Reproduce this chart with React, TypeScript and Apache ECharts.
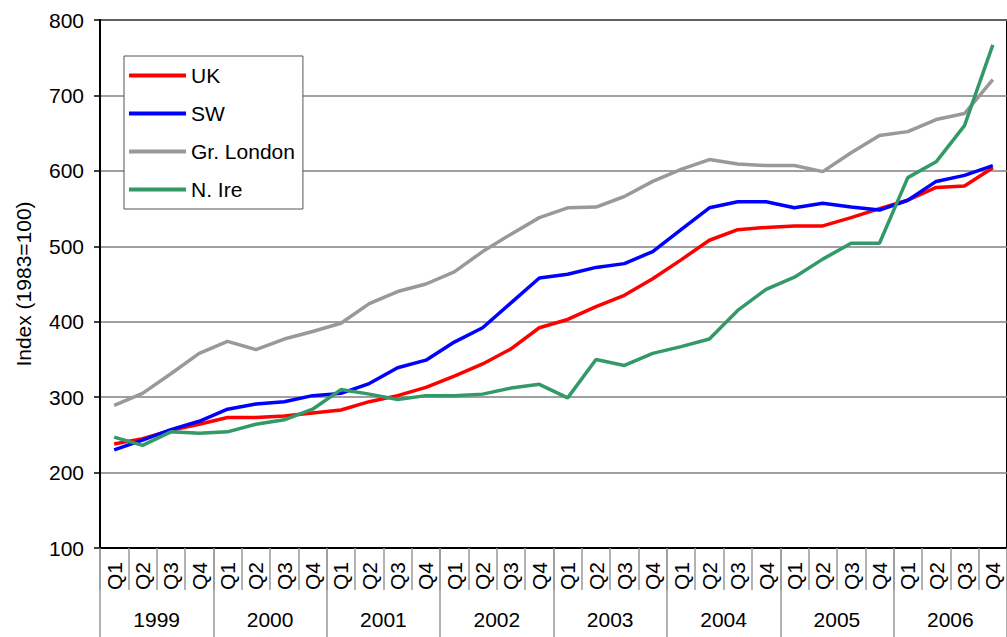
import React, { useEffect, useRef } from "react";
import * as echarts from "echarts";

const years = ["1999", "2000", "2001", "2002", "2003", "2004", "2005", "2006"];
const quarterLabels = ["Q1", "Q2", "Q3", "Q4"];

const ukValues = [238, 245, 256, 264, 273, 273, 275, 279, 283, 294, 302, 313, 328, 344, 364, 392, 403, 420, 435, 457, 482, 508, 522, 525, 527, 527, 538, 550, 561, 578, 580, 604];
const swValues = [230, 243, 257, 268, 284, 291, 294, 302, 305, 318, 339, 349, 373, 392, 425, 458, 463, 472, 477, 493, 522, 551, 559, 559, 551, 557, 552, 548, 561, 586, 594, 607];
const londonValues = [289, 305, 331, 358, 374, 363, 377, 387, 398, 424, 440, 450, 466, 493, 516, 538, 551, 552, 566, 586, 602, 615, 609, 607, 607, 599, 624, 647, 652, 668, 676, 721];
const nIreValues = [247, 236, 254, 252, 254, 264, 270, 284, 310, 304, 297, 302, 302, 304, 312, 317, 299, 350, 342, 358, 367, 377, 415, 443, 459, 483, 504, 504, 591, 612, 660, 767];

const yTicks = { min: 100, max: 800, interval: 100 };

const FONT = "'Liberation Sans', Arial, sans-serif";

export default function App() {
  const ref = useRef<HTMLDivElement>(null);

  useEffect(() => {
    document.body.style.margin = "0";
    if (!ref.current) return;
    const chart = echarts.init(ref.current, undefined, { renderer: "svg" });
    const categories = years.flatMap(() => quarterLabels);
    const mk = (name: string, data: number[], color: string) => ({
      name,
      type: "line",
      data,
      xAxisIndex: 0,
      symbol: "none",
      showSymbol: false,
      lineStyle: { color, width: 3.5 },
      itemStyle: { color },
      z: 3,
    });
    chart.setOption({
      animation: false,
      backgroundColor: "#ffffff",
      textStyle: { fontFamily: FONT, color: "#000" },
      grid: {
        left: 100,
        top: 20,
        right: -10,
        bottom: 89,
        show: true,
        borderColor: "#000",
        borderWidth: 2,
        backgroundColor: "transparent",
      },
      legend: {
        orient: "vertical",
        left: 124,
        top: 56,
        icon: "rect",
        itemWidth: 57,
        itemHeight: 4,
        itemGap: 17,
        padding: [9, 8, 9, 5],
        borderColor: "#555",
        borderWidth: 1,
        backgroundColor: "#fff",
        textStyle: { fontFamily: FONT, fontSize: 21, color: "#000" },
        data: ["UK", "SW", "Gr. London", "N. Ire"],
      },
      xAxis: [
        {
          type: "category",
          data: categories,
          boundaryGap: true,
          position: "bottom",
          axisLine: { show: true, lineStyle: { color: "#000", width: 2 } },
          axisTick: { show: true, interval: 0, length: 42, lineStyle: { color: "#999", width: 1.5 } },
          axisLabel: {
            interval: 0,
            rotate: 90,
            margin: 14,
            fontSize: 21,
            fontFamily: FONT,
            color: "#000",
          },
          splitLine: { show: false },
          z: 5,
        },
        {
          type: "category",
          data: years,
          boundaryGap: true,
          position: "bottom",
          offset: 0,
          axisLine: { show: false },
          axisTick: { show: true, interval: 0, length: 89, lineStyle: { color: "#999", width: 1.5 } },
          axisLabel: {
            interval: 0,
            margin: 61,
            fontSize: 21,
            fontFamily: FONT,
            color: "#000",
          },
          splitLine: { show: false },
        },
      ],
      yAxis: {
        type: "value",
        min: yTicks.min,
        max: yTicks.max,
        interval: yTicks.interval,
        name: "Index (1983=100)",
        nameLocation: "middle",
        nameGap: 66,
        nameTextStyle: { fontFamily: FONT, fontSize: 21, color: "#000" },
        axisLine: { show: true, lineStyle: { color: "#000", width: 2 } },
        axisTick: { show: true, length: 6, lineStyle: { color: "#000", width: 1.5 } },
        axisLabel: { margin: 16, fontSize: 21, fontFamily: FONT, color: "#000" },
        splitLine: { show: true, lineStyle: { color: "#808080", width: 1.5 } },
      },
      series: [
        mk("UK", ukValues, "#ff0000"),
        mk("SW", swValues, "#0000ff"),
        mk("Gr. London", londonValues, "#999999"),
        mk("N. Ire", nIreValues, "#339966"),
      ],
    });
    return () => chart.dispose();
  }, []);

  return (
    <div
      ref={ref}
      style={{ position: "absolute", left: 0, top: 0, width: 1007, height: 637 }}
    />
  );
}
